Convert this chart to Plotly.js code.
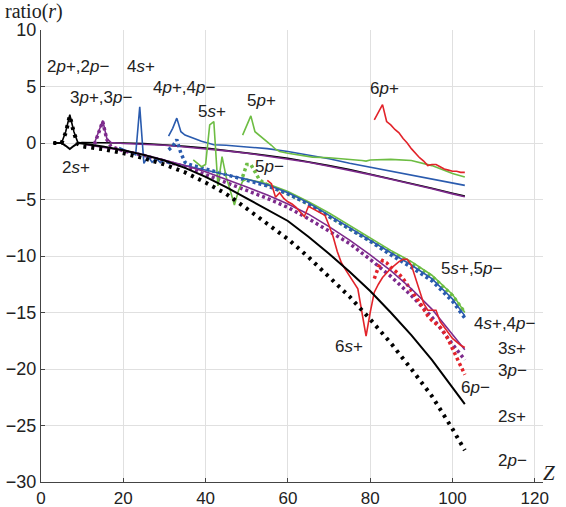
<!DOCTYPE html>
<html><head><meta charset="utf-8">
<script src="https://cdn.plot.ly/plotly-3.0.1.min.js"></script>
<style>html,body{margin:0;padding:0;background:#fff}</style>
</head><body><div id="chart" style="width:566px;height:507px"></div>
<script>
// ---- data (Z, ratio) ----
const z2 = [3,4,5,6,7,8,9,10,15,20,25,30,35,40,45,50,55,60,65,70,75,80,85,90,95,100,103];
const r2pPlus  = [0,0,0,1.0,2.5,1.0,0,0.05,0.05,0.0,-0.05,-0.15,-0.3,-0.45,-0.65,-0.85,-1.1,-1.35,-1.65,-2.0,-2.35,-2.75,-3.15,-3.55,-4.0,-4.45,-4.7];
const r2pMinus = [0,0,0,0.9,2.4,0.9,-0.1,-0.3,-0.55,-0.9,-1.35,-1.9,-2.6,-3.5,-4.5,-5.8,-7.1,-8.5,-10.1,-11.8,-13.6,-15.6,-17.7,-20.0,-22.4,-25.3,-27.2];
const r2sPlus  = [0,0,0,-0.25,-0.53,-0.25,0,-0.05,-0.3,-0.65,-1.05,-1.55,-2.2,-3.0,-3.9,-4.9,-5.9,-6.9,-8.3,-9.8,-11.4,-13.1,-15.0,-17.0,-19.2,-21.7,-23.1];

const z3p = [13,14,15,16,17,20,25,30,35,40,45,50,55,60,65,70,75,80,85,90,95,100,103];
const r3pPlus  = [0,1.0,2.0,0.4,0.05,-0.05,-0.1,-0.2,-0.35,-0.5,-0.7,-0.9,-1.15,-1.4,-1.7,-2.05,-2.4,-2.8,-3.2,-3.6,-4.05,-4.5,-4.75];
const r3pMinus = [-0.1,0.9,1.9,0.3,-0.3,-0.7,-1.1,-1.6,-2.1,-2.8,-3.5,-4.2,-4.9,-5.7,-6.7,-7.8,-8.9,-10.3,-11.8,-13.5,-15.4,-17.8,-19.2];
const z3s = [11,12,13,14,15,16,17,20,25,30,35,40,45,50,55,60,65,70,75,80,85,90,95,100,103];
const r3sPlus  = [-0.15,-0.2,-0.25,-0.3,-0.35,-0.4,-0.45,-0.65,-1.05,-1.5,-2.0,-2.55,-3.2,-3.9,-4.6,-5.4,-6.3,-7.4,-8.6,-9.9,-11.3,-12.9,-14.7,-16.9,-18.3];

const z4s = [19,20,21,22,23,24,25,26,27,28,29,30,31,32,35,40,45,50,55,60,65,70,75,80,85,90,95,100,103];
const r4sPlus  = [-0.4,-0.55,-0.7,-0.85,-1.05,3.2,-1.8,-1.2,-1.7,-1.35,-1.75,-1.5,-1.8,-1.75,-2.0,-2.4,-2.8,-3.2,-3.7,-4.4,-5.3,-6.4,-7.5,-8.6,-9.7,-10.8,-12.0,-13.8,-15.3];
const z4p = [31,32,33,34,35,36,37,39,42,45,50,55,60,65,70,75,80,85,90,95,100,103];
const r4pPlus  = [0.6,1.3,2.2,1.0,0.7,0.55,0.45,0.15,-0.15,-0.2,-0.35,-0.5,-0.75,-1.05,-1.4,-1.8,-2.15,-2.5,-2.85,-3.2,-3.55,-3.75];
const r4pMinus = [-0.6,-0.3,0.3,-0.9,-1.7,-1.9,-2.0,-2.2,-2.5,-2.8,-3.3,-3.8,-4.5,-5.4,-6.5,-7.6,-8.7,-9.9,-11.0,-12.2,-14.0,-15.5];

const z5s = [37,38,39,40,41,42,43,44,45,46,47,48,49,50,55,60,65,70,75,80,85,90,95,100,103];
const r5sPlus  = [-1.5,-1.8,-2.1,-1.9,1.6,1.9,-3.8,-1.2,-3.0,-4.2,-5.5,-4.2,-3.4,-3.2,-3.6,-4.3,-5.2,-6.2,-7.3,-8.4,-9.5,-10.5,-11.7,-13.4,-15.0];
const z5pP = [49,50,51,52,53,54,55,56,57,58,60,62,64,66,70,72,75,78,79,80,85,90,95,100,103];
const r5pPlus  = [0.7,1.5,2.4,1.0,0.7,0.45,0.15,-0.2,-0.55,-0.75,-0.9,-1.0,-1.15,-1.25,-1.3,-1.35,-1.45,-1.55,-1.6,-1.5,-1.45,-1.55,-2.0,-2.7,-3.0];
const z5pM = [49,50,51,52,53,54,55,60,65,70,75,80,85,90,95,100,103];
const r5pMinus = [-3.0,-1.9,-1.9,-2.6,-3.2,-3.5,-3.7,-4.5,-5.4,-6.5,-7.6,-8.6,-9.7,-10.6,-11.8,-13.5,-15.0];

const z6s = [55,56,57,58,59,60,61,62,63,64,65,66,67,68,69,70,71,72,73,74,75,76,77,78,79,80,81,82,83,84,85,86,87,88,89,90,91,92,93,94,95,96,97,98,99,100,101,102,103];
const r6sPlus  = [-3.3,-3.6,-4.8,-4.4,-4.9,-5.2,-5.4,-5.7,-6.1,-6.5,-5.6,-5.8,-6.0,-6.2,-6.4,-7.3,-8.3,-9.6,-10.6,-11.2,-11.8,-12.3,-12.9,-15.0,-17.1,-15.0,-13.2,-12.5,-11.9,-11.5,-11.1,-10.8,-10.5,-10.3,-10.3,-10.8,-12.0,-13.2,-14.2,-14.8,-14.8,-14.8,-15.8,-16.3,-16.8,-17.3,-17.6,-17.9,-18.1];
const z6p = [81,82,83,84,85,86,87,88,89,90,91,92,93,94,95,96,97,98,99,100,101,102,103];
const r6pPlus  = [2.05,2.7,3.4,1.9,1.6,1.2,0.9,0.4,0.0,-0.5,-0.9,-1.3,-1.6,-2.0,-1.9,-1.9,-2.1,-2.3,-2.4,-2.5,-2.5,-2.6,-2.6];
const r6pMinus = [-12.0,-11.0,-10.4,-10.6,-11.0,-11.3,-11.6,-12.0,-12.5,-13.0,-13.5,-14.1,-14.7,-15.3,-15.7,-16.0,-16.3,-16.8,-17.4,-18.2,-19.0,-19.8,-20.5];

// labels
const labelText = ["2<i>p</i>+,2<i>p</i>−","4<i>s</i>+","3<i>p</i>+,3<i>p</i>−","4<i>p</i>+,4<i>p</i>−","5<i>s</i>+","5<i>p</i>+","6<i>p</i>+","2<i>s</i>+","5<i>p</i>−","6<i>s</i>+",
  "5<i>s</i>+,5<i>p</i>−","4<i>s</i>+,4<i>p</i>−","3<i>s</i>+","3<i>p</i>−","6<i>p</i>−","2<i>s</i>+","2<i>p</i>−"];
const labelZ = [9.2,24.3,14.6,34.8,41.6,53.7,83.4,8.5,55.6,74.8,104.7,112.8,114.5,114.5,105.7,114.5,114.5];
const labelR = [6.8,6.8,4.0,4.9,2.75,3.8,4.8,-2.2,-2.1,-18.05,-11.1,-16.0,-18.2,-20.1,-21.6,-24.2,-28.1];

const C = {k:'#000000', pu:'#7d2a8c', bl:'#2a5bae', gr:'#6dbd43', rd:'#e2232a'};
function solid(x,y,c,w){return {x:x,y:y,type:'scatter',mode:'lines',line:{color:c,width:w||1.6},hoverinfo:'skip'};}
function dotted(x,y,c,dash,w){return {x:x,y:y,type:'scatter',mode:'lines',line:{color:c,width:w||3.5,dash:dash||'3px,3px'},hoverinfo:'skip'};}

const traces = [
  solid(z2,r2pPlus,C.k),
  solid(z3p,r3pPlus,C.pu),
  solid(z4p,r4pPlus,C.bl),
  solid(z5pP,r5pPlus,C.gr),
  solid(z6p,r6pPlus,C.rd),
  dotted(z5pM,r5pMinus,C.gr),
  dotted(z4p,r4pMinus,C.bl),
  dotted(z3p,r3pMinus,C.pu),
  dotted(z6p,r6pMinus,C.rd),
  solid(z5s,r5sPlus,C.gr),
  solid(z4s,r4sPlus,C.bl),
  solid(z3s,r3sPlus,C.pu),
  solid(z6s,r6sPlus,C.rd),
  solid(z2,r2sPlus,C.k,2),
  dotted(z2,r2pMinus,C.k,'3px,5px',4)
];

const annotations = labelText.map((t,i)=>({x:labelZ[i],y:labelR[i],xref:'x',yref:'y',text:t,showarrow:false,
  font:{family:'Liberation Sans, Arial, sans-serif',size:17,color:'#222'}}));
annotations.push({xref:'paper',yref:'paper',x:1.028,y:-0.011,text:'<i>Z</i>',showarrow:false,
  font:{family:'Liberation Serif, Times New Roman, serif',size:21,color:'#222'}});

const layout = {
  width:566,height:507,
  margin:{l:41,r:23,t:30,b:25},
  paper_bgcolor:'#fff',plot_bgcolor:'#fff',
  showlegend:false,
  title:{text:'ratio(<i>r</i>)',x:5/566,xref:'container',xanchor:'left',y:1-11/507,yref:'container',yanchor:'middle',
    font:{family:'Liberation Serif, Times New Roman, serif',size:20,color:'#222'}},
  xaxis:{range:[0,122],tickvals:[0,20,40,60,80,100,120],showgrid:true,gridcolor:'#e0e0e0',gridwidth:1,zeroline:false,
    showline:true,linecolor:'#444',linewidth:1.2,ticks:'inside',ticklen:4,tickcolor:'#444',
    tickfont:{family:'Liberation Sans, Arial, sans-serif',size:17,color:'#222'}},
  yaxis:{range:[-30,10],tickvals:[-30,-25,-20,-15,-10,-5,0,5,10],showgrid:true,gridcolor:'#e0e0e0',gridwidth:1,zeroline:false,
    showline:true,linecolor:'#444',linewidth:1.2,ticks:'inside',ticklen:4,tickcolor:'#444',
    tickfont:{family:'Liberation Sans, Arial, sans-serif',size:18,color:'#222'}},
  annotations:annotations
};
Plotly.newPlot('chart',traces,layout,{staticPlot:true});
</script></body></html>
